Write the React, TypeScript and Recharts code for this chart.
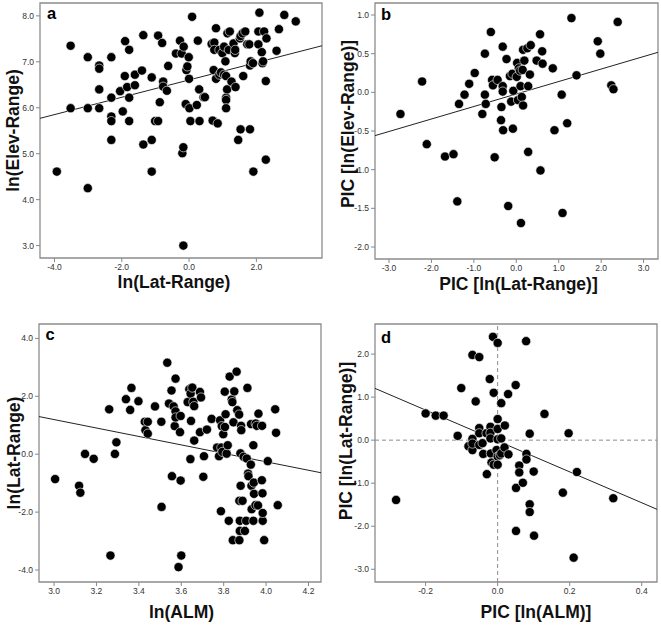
import { ScatterChart, Scatter, XAxis, YAxis, ReferenceLine, ReferenceArea } from 'recharts';

// panel a: ln(Lat-Range) vs ln(Elev-Range)
const latRangeA = [
    -3.93, -3.52, -3.52, -3.01, -3.01, -3.01, -2.67, -2.67, -2.67, -2.67, -2.31, -2.31, -2.31, -2.31, -2.31,
    -2.05, -1.97, -1.91, -1.90, -1.84, -1.78, -1.78, -1.78, -1.61, -1.61, -1.40, -1.36, -1.36, -1.11, -1.11,
    -1.11, -1.01, -0.92, -0.92, -0.87, -0.80, -0.77, -0.77, -0.66, -0.62, -0.39, -0.27, -0.22, -0.20, -0.17,
    -0.17, -0.16, -0.10, -0.08, -0.05, -0.01, 0.00, 0.01, 0.04, 0.09, 0.23, 0.26, 0.30, 0.31, 0.43, 0.47,
    0.67, 0.70, 0.73, 0.75, 0.75, 0.80, 0.80, 0.85, 0.90, 0.90, 0.95, 0.99, 1.04, 1.04, 1.08, 1.10, 1.10,
    1.10, 1.10, 1.13, 1.14, 1.18, 1.21, 1.26, 1.32, 1.36, 1.37, 1.38, 1.46, 1.51, 1.53, 1.53, 1.59, 1.61,
    1.67, 1.73, 1.79, 1.81, 1.81, 1.83, 1.90, 1.91, 2.06, 2.06, 2.09, 2.16, 2.18, 2.20, 2.23, 2.28, 2.30,
    2.28, 2.60, 2.67, 2.83, 3.17
];
const elevRangeA = [
    4.61, 7.35, 5.99, 7.10, 5.99, 4.25, 6.92, 6.85, 6.40, 5.99, 7.10, 6.22, 5.81, 5.71, 5.30,
    6.36, 5.92, 6.69, 7.45, 6.45, 7.26, 6.22, 5.71, 6.72, 6.49, 6.81, 7.58, 5.20, 6.66, 5.30,
    4.61, 5.71, 7.57, 5.71, 6.12, 7.41, 6.57, 6.46, 6.37, 6.91, 7.18, 7.46, 7.18, 5.01, 5.14,
    3.00, 7.33, 6.08, 6.82, 6.90, 7.10, 6.63, 5.99, 5.71, 7.98, 6.06, 7.46, 6.40, 5.71, 6.23, 6.23,
    7.39, 5.72, 6.82, 7.42, 7.26, 7.73, 6.63, 5.66, 7.26, 6.72, 6.77, 7.19, 7.33, 6.72, 7.01, 6.69, 6.22,
    6.17, 5.99, 6.40, 7.62, 7.26, 7.66, 6.57, 7.40, 7.19, 7.26, 6.45, 5.30, 7.51, 7.56, 5.53, 7.62, 6.69,
    7.66, 7.38, 7.38, 6.92, 5.53, 7.01, 6.97, 4.61, 7.38, 7.66, 8.07, 7.21, 6.97, 7.01, 7.66, 6.58, 7.51,
    4.87, 7.24, 7.71, 8.02, 7.88
];

// panel b: PIC [ln(Lat-Range)] vs PIC [ln(Elev-Range)]
const picLatB = [
    -2.73, -2.22, -2.11, -1.68, -1.48, -1.39, -1.35, -1.22, -1.11, -0.98, -0.80, -0.74, -0.74, -0.72, -0.60,
    -0.57, -0.55, -0.51, -0.44, -0.36, -0.35, -0.32, -0.32, -0.32, -0.31, -0.23, -0.19, -0.15, -0.12, -0.09,
    -0.08, -0.07, 0.01, 0.02, 0.04, 0.06, 0.09, 0.10, 0.11, 0.13, 0.15, 0.16, 0.16, 0.19, 0.26, 0.28, 0.28,
    0.32, 0.34, 0.48, 0.56, 0.57, 0.61, 0.62, 0.86, 0.90, 1.07, 1.09, 1.20, 1.30, 1.42, 1.92, 1.98, 2.24,
    2.29, 2.39
];
const picElevB = [
    -0.28, 0.14, -0.67, -0.83, -0.80, -1.41, -0.15, -0.03, 0.11, 0.25, -0.28, 0.50, -0.03, -0.15, 0.78,
    0.16, 0.09, -0.84, 0.16, -0.36, -0.19, 0.59, 0.08, 0.01, -0.49, 0.43, -1.47, 0.21, -0.12, 0.24,
    -0.47, 0.02, 0.20, 0.38, -0.10, 0.31, 0.28, 0.08, -1.69, -0.06, 0.29, -0.17, 0.55, 0.41, 0.57, 0.08, -0.77,
    0.23, 0.61, 0.41, 0.75, -1.01, 0.53, 0.37, 0.31, -0.49, -0.03, -1.56, -0.40, 0.96, 0.22, 0.66, 0.50, 0.09,
    0.04, 0.91
];

// panel c: ln(ALM) vs ln(Lat-Range)
const almC = [
    3.005, 3.118, 3.124, 3.146, 3.187, 3.260, 3.266, 3.287, 3.294, 3.339, 3.359, 3.365, 3.398, 3.428, 3.431,
    3.442, 3.442, 3.476, 3.506, 3.507, 3.534, 3.542, 3.554, 3.556, 3.564, 3.569, 3.573, 3.573, 3.573, 3.597,
    3.594, 3.597, 3.587, 3.600, 3.630, 3.638, 3.644, 3.643, 3.646, 3.652, 3.657, 3.661, 3.661, 3.688, 3.693,
    3.688, 3.707, 3.704, 3.721, 3.743, 3.769, 3.778, 3.783, 3.787, 3.789, 3.791, 3.794, 3.798, 3.805, 3.809,
    3.806, 3.814, 3.819, 3.824, 3.828, 3.838, 3.841, 3.843, 3.846, 3.850, 3.861, 3.864, 3.873, 3.874, 3.874,
    3.876, 3.876, 3.879, 3.880, 3.882, 3.883, 3.889, 3.894, 3.900, 3.906, 3.909, 3.912, 3.915, 3.917, 3.928,
    3.929, 3.931, 3.932, 3.940, 3.940, 3.942, 3.943, 3.950, 3.951, 3.956, 3.962, 3.964, 3.980, 3.981, 3.983,
    3.984, 3.984, 3.991, 4.008, 4.043, 4.047, 4.055
];
const latRangeC = [
    -0.86, -1.09, -1.33, 0.01, -0.16, 1.55, -3.50, 0.01, 0.41, 1.90, 1.53, 2.29, 1.83, 1.12, 0.83,
    1.12, 0.71, 1.65, 1.12, -1.82, 3.16, 1.75, 2.20, -0.76, 1.65, 0.97, 2.61, 1.48, 1.27, 1.32,
    0.76, -0.91, -3.90, -3.50, 1.80, 2.24, 2.09, -0.17, 1.15, 2.30, 1.81, 1.66, 0.47, 2.15, 1.96,
    0.76, -0.07, -0.78, 0.85, 1.22, 0.23, -0.07, 1.17, -1.97, 0.23, 0.97, 0.08, 0.69, 2.16, 1.38,
    0.94, 0.02, 0.31, -2.30, 2.68, 1.89, 1.80, -2.97, 1.10, 2.17, 2.85, 1.52, 1.37, -2.97, -1.61,
    -2.30, -2.65, 0.03, -1.09, 0.98, 0.83, -1.61, -0.09, -2.65, -2.30, -0.15, 2.29, -0.67, -0.76, -0.36,
    1.04, -1.09, -1.90, 0.31, -2.30, -0.98, -1.37, -1.76, 1.06, 0.98, -1.77, 1.40, -0.90, 0.98, -1.35,
    -2.30, -2.03, -2.97, -0.24, 1.55, 0.74, -1.76
];

// panel d: PIC [ln(ALM)] vs PIC [ln(Lat-Range)]
const picAlmD = [
    -0.282, -0.200, -0.172, -0.150, -0.111, -0.101, -0.081, -0.070, -0.070, -0.070, -0.070, -0.061, -0.051,
    -0.051, -0.051, -0.051, -0.042, -0.040, -0.031, -0.030, -0.022, -0.020, -0.020, -0.020, -0.019, -0.017,
    -0.013, -0.011, -0.011, -0.003, 0.000, 0.000, 0.000, 0.000, 0.000, 0.000, 0.006, 0.010, 0.010, 0.010,
    0.019, 0.020, 0.029, 0.030, 0.050, 0.051, 0.051, 0.060, 0.060, 0.070, 0.079, 0.080, 0.080, 0.089,
    0.089, 0.089, 0.100, 0.101, 0.130, 0.181, 0.197, 0.220, 0.211, 0.321
];
const picLatD = [
    -1.39, 0.62, 0.57, 0.57, 0.10, 1.21, -0.14, 1.98, 0.03, -0.23, -0.08, 0.90, 1.93,
    0.28, 0.16, -0.11, -0.07, -0.32, 0.16, -0.79, 1.42, 0.31, 0.17, 0.04, -0.31, -0.52,
    2.40, 1.10, -0.57, -0.23, 2.26, 0.49, 0.26, 0.02, -0.38, -0.57, -0.35, 0.86, 0.04, -0.31,
    -0.17, 0.34, 1.07, -0.33, 1.28, -1.11, -2.11, -0.59, -0.75, -0.99, 2.30, -0.32, -0.45, 0.15,
    -1.49, -1.67, -0.73, -2.22, 0.61, -1.22, 0.16, -0.74, -2.73, -1.35
];

// fitted regression lines (slope, intercept)
const fitA = { slope: 0.1885, intercept: 6.605 };
const fitB = { slope: 0.1615, intercept: -0.022 };
const fitC = { slope: -1.4586, intercept: 5.572 };
const fitD = { slope: -3.589, intercept: -0.019 };

const FONT = '"Liberation Sans", Arial, sans-serif';

const toPoints = (xs: number[], ys: number[]) => xs.map((x, i) => ({ x, y: ys[i] }));

const Dot = (props: any) => (
    <circle cx={props.cx} cy={props.cy} r={4.6} fill="#000" stroke="#fff" strokeWidth={0.6} />
);

interface PanelProps {
    left: number;
    top: number;
    width: number;
    height: number;
    margin: { top: number; right: number; bottom: number; left: number };
    yAxisWidth: number;
    xDomain: [number, number];
    yDomain: [number, number];
    xTicks: number[];
    yTicks: number[];
    points: { x: number; y: number }[];
    fit: { slope: number; intercept: number };
    letter: string;
    letterPos: { left: number; top: number };
    xTitle: string;
    yTitle: string;
    xTitleDx: number;
    xTitleDy: number;
    yTitleDx: number;
    yTitleDy: number;
    crosshair?: boolean;
}

function Panel(p: PanelProps) {
    const fitSegment = [
        { x: p.xDomain[0], y: p.fit.intercept + p.fit.slope * p.xDomain[0] },
        { x: p.xDomain[1], y: p.fit.intercept + p.fit.slope * p.xDomain[1] },
    ];
    const tickStyle = { fontSize: 8.5, fill: '#333', fontFamily: FONT };
    const titleStyle = { fontSize: 17.5, fontWeight: 'bold', fill: '#111', fontFamily: FONT };

    return (
        <div style={{ position: 'absolute', left: p.left, top: p.top, width: p.width, height: p.height }}>
            <ScatterChart width={p.width} height={p.height} margin={p.margin}>
                <XAxis
                    type="number"
                    dataKey="x"
                    domain={p.xDomain}
                    ticks={p.xTicks}
                    allowDataOverflow
                    height={40}
                    axisLine={false}
                    tickLine={{ stroke: '#888' }}
                    tickSize={4}
                    tick={tickStyle}
                    tickFormatter={(v: number) => v.toFixed(1)}
                    label={{ value: p.xTitle, position: 'center', dx: p.xTitleDx, dy: p.xTitleDy, style: titleStyle }}
                />
                <YAxis
                    type="number"
                    dataKey="y"
                    domain={p.yDomain}
                    ticks={p.yTicks}
                    allowDataOverflow
                    width={p.yAxisWidth}
                    axisLine={false}
                    tickLine={{ stroke: '#888' }}
                    tickSize={4}
                    tick={tickStyle}
                    tickFormatter={(v: number) => v.toFixed(1)}
                    label={{ value: p.yTitle, position: 'center', angle: -90, dx: p.yTitleDx, dy: p.yTitleDy, style: titleStyle }}
                />
                <ReferenceArea
                    x1={p.xDomain[0]}
                    x2={p.xDomain[1]}
                    y1={p.yDomain[0]}
                    y2={p.yDomain[1]}
                    fill="none"
                    stroke="#8c8c8c"
                    strokeWidth={1.3}
                    ifOverflow="visible"
                />
                {p.crosshair && <ReferenceLine x={0} stroke="#8c8c8c" strokeDasharray="4 3" />}
                {p.crosshair && <ReferenceLine y={0} stroke="#8c8c8c" strokeDasharray="4 3" />}
                <ReferenceLine segment={fitSegment} stroke="#222" strokeWidth={1} ifOverflow="visible" />
                <Scatter data={p.points} shape={Dot} isAnimationActive={false} />
            </ScatterChart>
            <div
                style={{
                    position: 'absolute',
                    left: p.letterPos.left,
                    top: p.letterPos.top,
                    fontFamily: FONT,
                    fontSize: 16.5,
                    fontWeight: 'bold',
                    lineHeight: 1,
                    color: '#000',
                }}
            >
                {p.letter}
            </div>
        </div>
    );
}

export default function App() {
    return (
        <div style={{ position: 'absolute', left: 0, top: 0, width: 661, height: 625, background: '#fff' }}>
            <Panel
                left={0} top={0} width={330} height={310}
                margin={{ top: 3, right: 8, bottom: 12, left: 0 }}
                yAxisWidth={40}
                xDomain={[-4.43, 3.95]} yDomain={[2.73, 8.28]}
                xTicks={[-4, -2, 0, 2]} yTicks={[3, 4, 5, 6, 7, 8]}
                points={toPoints(latRangeA, elevRangeA)}
                fit={fitA}
                letter="a" letterPos={{ left: 47, top: 5 }}
                xTitle="ln(Lat-Range)" yTitle="ln(Elev-Range)"
                xTitleDx={-7} xTitleDy={4} yTitleDx={-7} yTitleDy={0}
            />
            <Panel
                left={330} top={0} width={331} height={310}
                margin={{ top: 3, right: 3, bottom: 11, left: 0 }}
                yAxisWidth={45}
                xDomain={[-3.33, 3.34]} yDomain={[-2.155, 1.155]}
                xTicks={[-3, -2, -1, 0, 1, 2, 3]} yTicks={[-2, -1.5, -1, -0.5, 0, 0.5, 1]}
                points={toPoints(picLatB, picElevB)}
                fit={fitB}
                letter="b" letterPos={{ left: 51, top: 6 }}
                xTitle="PIC [ln(Lat-Range)]" yTitle="PIC [ln(Elev-Range)]"
                xTitleDx={2} xTitleDy={4.5} yTitleDx={-5} yTitleDy={-7}
            />
            <Panel
                left={0} top={310} width={330} height={315}
                margin={{ top: 14, right: 9, bottom: 3, left: 0 }}
                yAxisWidth={39}
                xDomain={[2.929, 4.259]} yDomain={[-4.414, 4.497]}
                xTicks={[3, 3.2, 3.4, 3.6, 3.8, 4, 4.2]} yTicks={[-4, -2, 0, 2, 4]}
                points={toPoints(almC, latRangeC)}
                fit={fitC}
                letter="c" letterPos={{ left: 45.5, top: 15.5 }}
                xTitle="ln(ALM)" yTitle="ln(Lat-Range)"
                xTitleDx={1.5} xTitleDy={9.5} yTitleDx={-5.5} yTitleDy={0}
            />
            <Panel
                left={330} top={310} width={331} height={315}
                margin={{ top: 14, right: 4, bottom: 3, left: 0 }}
                yAxisWidth={45}
                xDomain={[-0.3405, 0.4424]} yDomain={[-3.296, 2.699]}
                xTicks={[-0.2, 0, 0.2, 0.4]} yTicks={[-3, -2, -1, 0, 1, 2]}
                points={toPoints(picAlmD, picLatD)}
                fit={fitD}
                letter="d" letterPos={{ left: 51, top: 19 }}
                xTitle="PIC [ln(ALM)]" yTitle="PIC [ln(Lat-Range)]"
                xTitleDx={20} xTitleDy={9.5} yTitleDx={-6.5} yTitleDy={-12}
                crosshair
            />
        </div>
    );
}
